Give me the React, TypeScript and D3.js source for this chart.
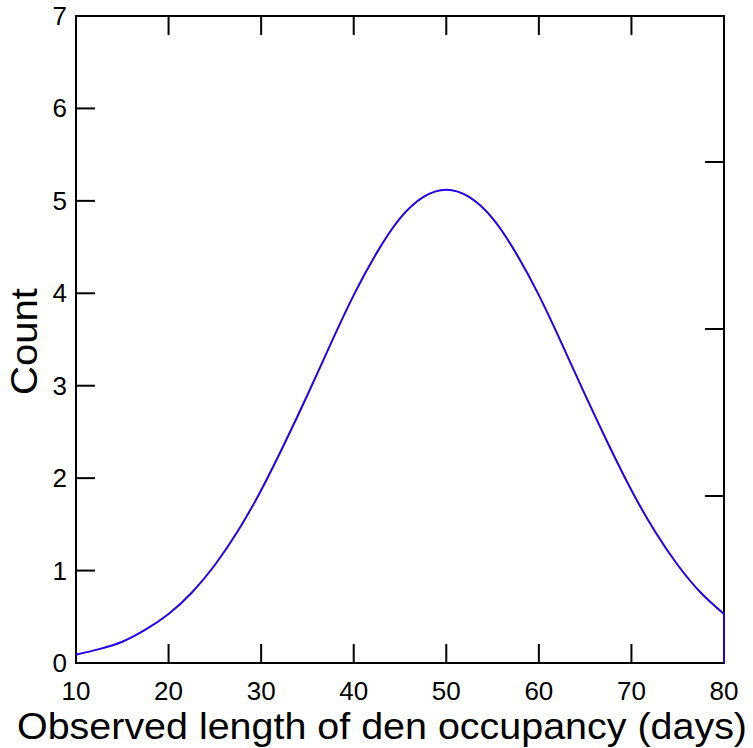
import React from "react";
import * as d3 from "d3";

const days = [10, 12.5, 15, 17.5, 20, 22.5, 25, 27.5, 30, 32.5, 35, 37.5, 40, 42.5, 45, 47.5, 50, 52.5, 55, 57.5, 60, 62.5, 65, 67.5, 70, 72.5, 75, 77.5, 80];
const counts = [0.09, 0.15, 0.23, 0.36, 0.53, 0.76, 1.06, 1.43, 1.87, 2.37, 2.9, 3.45, 3.98, 4.44, 4.81, 5.04, 5.12, 5.04, 4.81, 4.44, 3.98, 3.45, 2.9, 2.37, 1.87, 1.43, 1.06, 0.76, 0.53];
const xTicks = [10, 20, 30, 40, 50, 60, 70, 80];
const yTicks = [0, 1, 2, 3, 4, 5, 6, 7];
const rightTicks = [0, 1, 2, 3];

const W = 753, H = 748;
const L = 76, R = 724, T = 16, B = 663;

export default function App() {
  const x = d3.scaleLinear().domain([10, 80]).range([L, R]);
  const y = d3.scaleLinear().domain([0, 7]).range([B, T]);
  const yR = d3.scaleLinear().domain([0, (B - T) / 167]).range([B, T]);
  const pts: [number, number][] = days.map((d, i) => [d, counts[i]]);
  const line = d3.line<[number, number]>().x(d => x(d[0])).y(d => y(d[1])).curve(d3.curveNatural);
  const path = line(pts) + `L${x(80)},${y(0)}`;
  const font = "'Liberation Sans', Arial, sans-serif";
  const tl = 19;
  return (
    <svg width={W} height={H} style={{ position: "absolute", left: 0, top: 0 }}>
      <rect width={W} height={H} fill="white" />
      <rect x={L} y={T} width={R - L} height={B - T} fill="none" stroke="black" strokeWidth={2} />
      {xTicks.map(t => (
        <g key={"x" + t}>
          <line x1={x(t)} x2={x(t)} y1={B} y2={B - tl} stroke="black" strokeWidth={2} />
          <line x1={x(t)} x2={x(t)} y1={T} y2={T + tl} stroke="black" strokeWidth={2} />
          <text x={x(t)} y={700} textAnchor="middle" fontFamily={font} fontSize={26}>{t}</text>
        </g>
      ))}
      {yTicks.map(t => (
        <g key={"y" + t}>
          <line x1={L} x2={L + tl} y1={y(t)} y2={y(t)} stroke="black" strokeWidth={2} />
          <text x={67} y={y(t) + 9} textAnchor="end" fontFamily={font} fontSize={26}>{t}</text>
        </g>
      ))}
      {rightTicks.map(t => (
        <line key={"r" + t} x1={R} x2={R - tl} y1={yR(t)} y2={yR(t)} stroke="black" strokeWidth={2} />
      ))}
      <path d={path} fill="none" stroke="#2200ee" strokeWidth={2} />
      <text x={17} y={739} fontFamily={font} fontSize={36} textLength={730} lengthAdjust="spacingAndGlyphs">
        Observed length of den occupancy (days)
      </text>
      <text transform={`translate(37,341.5) rotate(-90)`} textAnchor="middle" fontFamily={font} fontSize={36} textLength={107} lengthAdjust="spacingAndGlyphs">
        Count
      </text>
    </svg>
  );
}
